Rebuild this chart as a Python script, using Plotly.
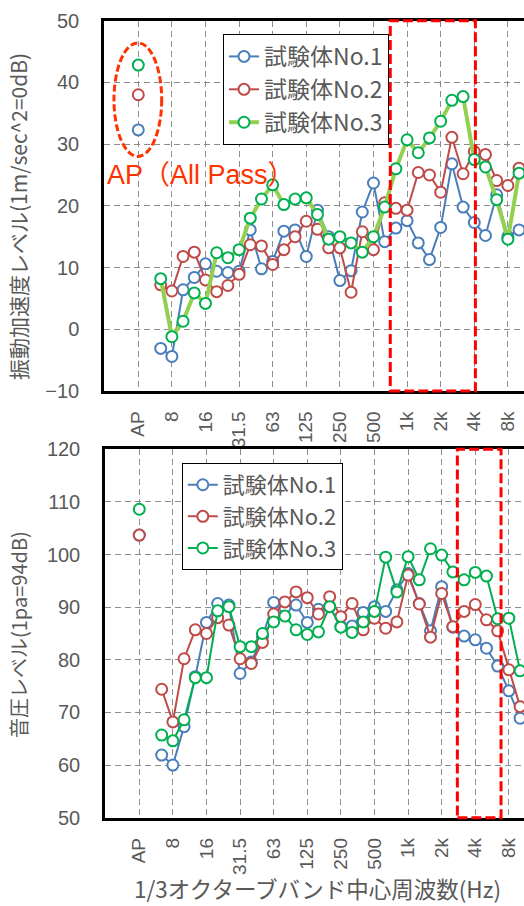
import plotly.graph_objects as go

# 1/3 octave band centre frequencies (AP = All Pass)
bands = ["AP", "5", "6.3", "8", "10", "12.5", "16", "20", "25", "31.5", "40", "50", "63",
         "80", "100", "125", "160", "200", "250", "315", "400", "500", "630", "800",
         "1k", "1.25k", "1.6k", "2k", "2.5k", "3.15k", "4k", "5k", "6.3k", "8k", "10k"]
tick_labels = ["AP", "8", "16", "31.5", "63", "125", "250", "500", "1k", "2k", "4k", "8k"]
series_names = ["試験体No.1", "試験体No.2", "試験体No.3"]

# vibration acceleration level (dB)
vib_no1 = [32.3, None, -3.1, -4.4, 6.4, 8.4, 10.6, 9.4, 9.2, 9.4, 16.1, 9.8, 11.0, 15.9, 16.1,
           11.8, 19.3, 15.0, 7.9, 9.5, 19.0, 23.7, 14.2, 16.4, 17.6, 14.0, 11.3, 16.5, 26.8,
           19.8, 17.3, 15.2, 21.8, 15.0, 16.1]
vib_no2 = [38.0, None, 7.2, 6.2, 11.8, 12.5, 8.0, 6.1, 7.1, 8.9, 13.7, 13.5, 10.5, 12.9, 15.0,
           17.5, 16.2, 13.2, 13.2, 6.0, 15.8, 12.9, 20.5, 19.6, 19.3, 25.4, 25.0, 22.2, 31.1,
           25.2, 28.8, 28.3, 24.1, 23.3, 26.1]
vib_no3 = [42.8, None, 8.2, -1.2, 1.3, 5.9, 4.2, 12.4, 11.6, 12.9, 18.0, 21.1, 23.4, 20.2, 21.1,
           21.3, 18.6, 14.6, 15.0, 14.0, 12.5, 15.0, 19.8, 26.0, 30.7, 28.6, 31.0, 33.7, 37.1,
           37.7, 27.5, 26.3, 21.0, 14.6, 25.3]

# sound pressure level (dB)
spl_no1 = [103.7, None, 61.9, 60.0, 67.3, 76.8, 87.1, 90.7, 90.4, 77.4, 79.6, 84.4, 90.9, 89.9,
           90.4, 87.1, 89.6, 90.1, 86.3, 86.4, 89.0, 90.1, 89.2, 93.3, 96.4, 90.7, 85.5, 93.9,
           86.2, 84.5, 83.8, 82.2, 78.8, 74.1, 68.9]
spl_no2 = [103.7, None, 74.4, 68.2, 80.2, 85.7, 85.0, 88.0, 86.6, 80.2, 79.3, 83.3, 88.7, 91.0,
           92.9, 91.8, 88.7, 92.0, 88.2, 90.7, 85.7, 87.9, 86.0, 87.2, 96.1, 90.6, 84.3, 92.6,
           86.3, 89.2, 90.5, 87.6, 85.5, 78.1, 71.1]
spl_no3 = [108.6, None, 65.7, 64.6, 68.6, 76.6, 76.6, 89.3, 90.1, 82.5, 82.5, 85.0, 87.2, 88.3,
           85.7, 84.8, 85.3, 90.1, 86.2, 85.2, 87.2, 89.2, 99.5, 92.9, 99.6, 95.2, 101.1, 99.9,
           96.7, 95.2, 96.6, 95.9, 87.8, 87.9, 77.9]

BLUE = "#4A7EBB"
RED = "#BE4B48"
GREEN_M = "#00B050"
GREEN_L = "#92D050"
TXT = "#595959"
GRID = "#8C8C8C"
JP = "Noto Sans CJK JP"
LAT = "Liberation Sans, Noto Sans CJK JP"

fig = go.Figure()

top_styles = [(vib_no1, BLUE, BLUE, 2), (vib_no2, RED, RED, 2), (vib_no3, GREEN_L, GREEN_M, 4)]
for name, (vals, lc, mc, lw) in zip(series_names, top_styles):
    fig.add_trace(go.Scatter(
        x=bands, y=vals, name=name, mode="lines+markers", connectgaps=False,
        line=dict(color=lc, width=lw),
        marker=dict(symbol="circle", size=11, color="white", line=dict(color=mc, width=2)),
        xaxis="x", yaxis="y", legend="legend"))

bot_styles = [(spl_no1, BLUE), (spl_no2, RED), (spl_no3, GREEN_M)]
for name, (vals, c) in zip(series_names, bot_styles):
    fig.add_trace(go.Scatter(
        x=bands, y=vals, name=name, mode="lines+markers", connectgaps=False,
        line=dict(color=c, width=2),
        marker=dict(symbol="circle", size=11, color="white", line=dict(color=c, width=2)),
        xaxis="x2", yaxis="y2", legend="legend2"))

xcommon = dict(type="category", categoryorder="array", categoryarray=bands,
               tickmode="array", tickvals=tick_labels, ticktext=tick_labels,
               tickangle=-90, tickfont=dict(family=LAT, size=19, color=TXT),
               showgrid=True, gridcolor=GRID, gridwidth=1.3, griddash="6px,4px",
               showline=True, linecolor="black", linewidth=2.5, mirror=True,
               ticks="", ticklabelstandoff=10, zeroline=False, automargin=False)
ycommon = dict(tickfont=dict(family=LAT, size=20, color=TXT),
               showgrid=True, gridcolor=GRID, gridwidth=1.3, griddash="6px,4px",
               showline=True, linecolor="black", linewidth=2.5, mirror=False,
               ticks="", ticklabelstandoff=18, zeroline=False, dtick=10, automargin=False)

fig.update_layout(
    width=524, height=906, margin=dict(l=0, r=0, t=0, b=0, autoexpand=False),
    paper_bgcolor="white", plot_bgcolor="white",
    xaxis=dict(xcommon, domain=[0.1985, 1.0], range=[-3.06, 34.44], anchor="y"),
    yaxis=dict(ycommon, domain=[0.5684, 0.9772], range=[-10, 50], anchor="x"),
    xaxis2=dict(xcommon, domain=[0.2004, 1.0], range=[-3.06, 34.35], anchor="y2"),
    yaxis2=dict(ycommon, domain=[0.0975, 0.5041], range=[50, 120], anchor="x2"),
    legend=dict(x=0.4256, y=0.9625, xanchor="left", yanchor="top",
                bgcolor="white", bordercolor="black", borderwidth=1,
                font=dict(family=JP, size=23, color=TXT), tracegroupgap=0),
    legend2=dict(x=0.347, y=0.489, xanchor="left", yanchor="top",
                 bgcolor="white", bordercolor="black", borderwidth=1,
                 font=dict(family=JP, size=22, color=TXT), tracegroupgap=0),
    showlegend=True,
)

fig.add_shape(type="rect", xref="x", yref="y domain", x0=22.5, x1=30.1, y0=0, y1=1,
              line=dict(color="#FF0000", width=3, dash="10px,4px"))
fig.add_shape(type="rect", xref="x2", yref="y2 domain", x0=28.4, x1=32.3, y0=0, y1=1,
              line=dict(color="#FF0000", width=3, dash="10px,4px"))
fig.add_shape(type="circle", xref="x", yref="y", x0=-2.17, x1=2.09, y0=28.0, y1=46.4,
              line=dict(color="#FF3300", width=3, dash="7px,3px"))

fig.add_annotation(x=-2.95, y=25.0, xref="x", yref="y", xanchor="left", yanchor="middle",
                   text="AP（All Pass）", showarrow=False,
                   font=dict(family=LAT, size=27, color="#FF3300"))
fig.add_annotation(x=18 / 524, y=1 - 217 / 906, xref="paper", yref="paper",
                   text="振動加速度レベル(1m/sec^2=0dB)", textangle=-90, showarrow=False,
                   xanchor="center", yanchor="middle",
                   font=dict(family=JP, size=21, color=TXT))
fig.add_annotation(x=18 / 524, y=1 - 635 / 906, xref="paper", yref="paper",
                   text="音圧レベル(1pa=94dB)", textangle=-90, showarrow=False,
                   xanchor="center", yanchor="middle",
                   font=dict(family=JP, size=20, color=TXT))
fig.add_annotation(x=317 / 524, y=1 - 888 / 906, xref="paper", yref="paper",
                   text="1/3オクターブバンド中心周波数(Hz)", showarrow=False,
                   xanchor="center", yanchor="middle",
                   font=dict(family=JP, size=22.5, color=TXT))

fig.write_html("out.html", config={"displayModeBar": False},
               post_script="document.body.style.margin='0';document.body.style.overflow='hidden';")
